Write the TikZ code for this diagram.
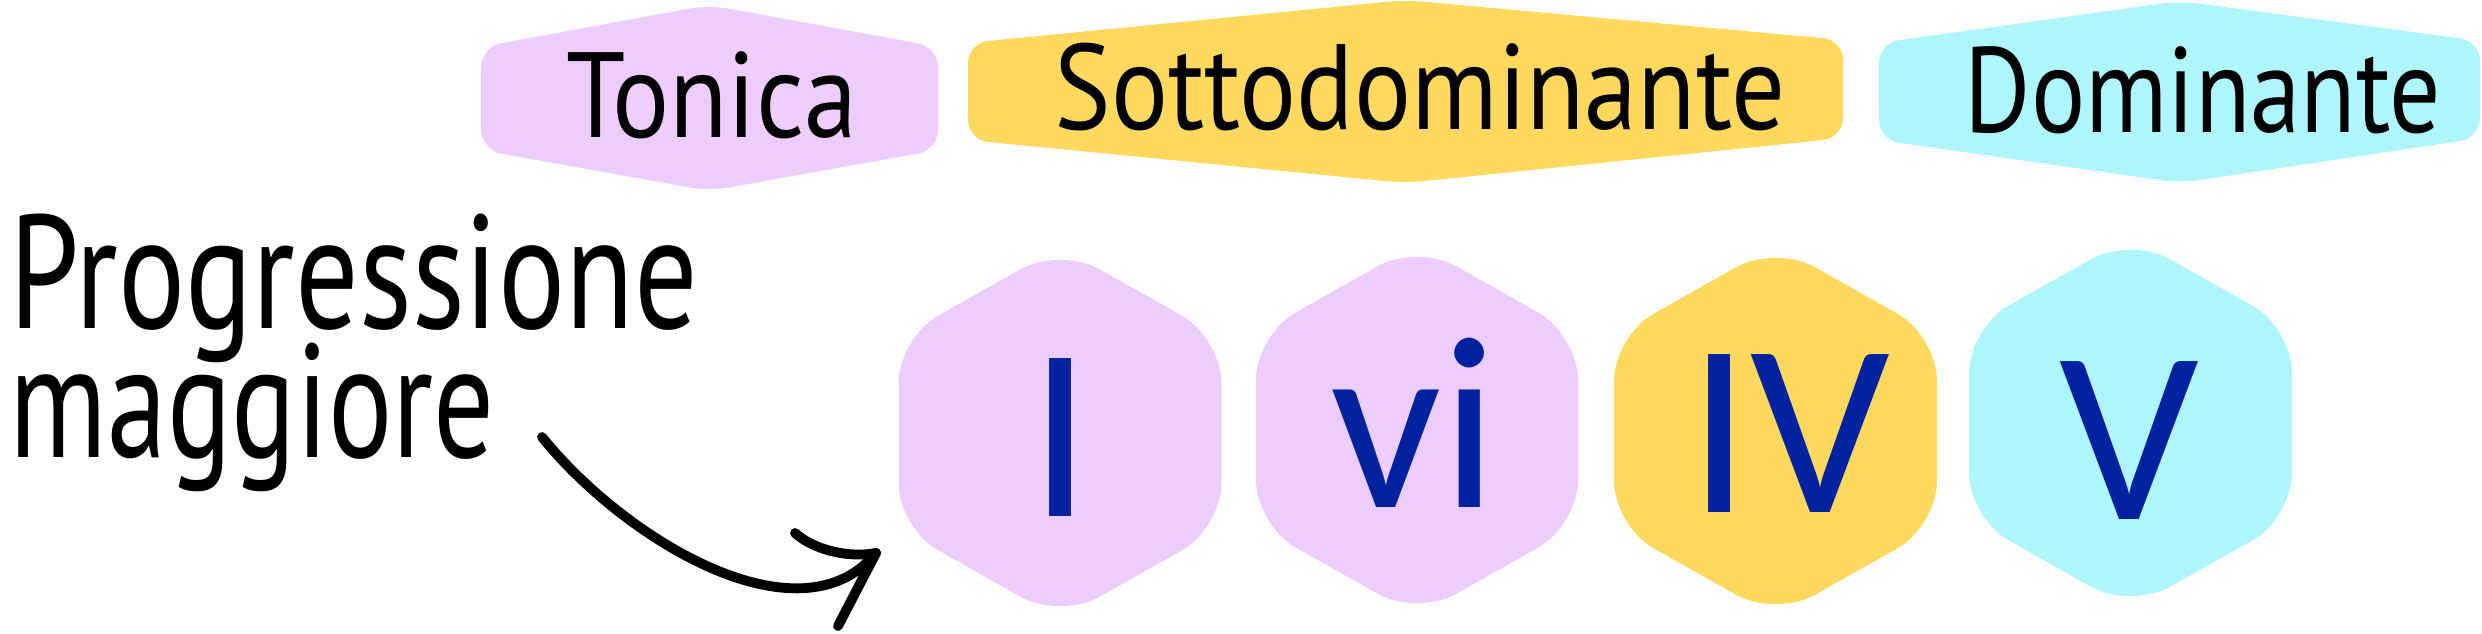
\documentclass[tikz,border=0pt]{standalone}
\usepackage{fontspec}
\usepackage{graphicx}
\newfontfamily\handfont{PT Sans}
\newfontfamily\numfont{Carlito}
\definecolor{tonicpurple}{RGB}{237, 205, 253}
\definecolor{subyellow}{RGB}{254, 217, 94}
\definecolor{domcyan}{RGB}{175, 246, 252}
\definecolor{numblue}{RGB}{0, 34, 160}
\usetikzlibrary{positioning}

\begin{document}
\begin{tikzpicture}[
    x=0.01cm, y=-0.01cm,
    hexlabel/.style={font={\handfont\fontsize{34.5}{40}\selectfont}, anchor=base, inner sep=0pt},
    titletext/.style={font={\handfont\fontsize{46}{50}\selectfont}, anchor=base west, inner sep=0pt},
    chord/.style={font={\numfont\fontsize{70}{80}\selectfont}, text=numblue, anchor=base, inner sep=0pt},
    headhex/.style={rounded corners=0.2cm},
    chordhex/.style={rounded corners=0.45cm},
    pen/.style={line width=2.8pt, line cap=round, line join=round}
  ]
  \useasboundingbox (0,0) rectangle (2482,634);

  % group headers
  \fill[headhex, fill=tonicpurple] (709,5) -- (938,47) -- (938,150) -- (709,191) -- (481,150) -- (481,47) -- cycle;
  \fill[headhex, fill=subyellow] (1405,0) -- (1843,40) -- (1843,138) -- (1405,183) -- (968,140) -- (968,43) -- cycle;
  \fill[headhex, fill=domcyan] (2180,1) -- (2480,41) -- (2480,138) -- (2180,183) -- (1879,140) -- (1879,43) -- cycle;
  \node[hexlabel] (tonica) at (712,138) {\resizebox{2.91cm}{\height}{Tonica}};
  \node[hexlabel] (sotto)  at (1420,130) {\resizebox{7.30cm}{\height}{Sottodominante}};
  \node[hexlabel] (domin)  at (2203,133) {\resizebox{4.76cm}{\height}{Dominante}};

  % chords
  \fill[chordhex, fill=tonicpurple] (1060,247) -- (1221.5,338) -- (1221.5,528) -- (1060,619) -- (898.5,528) -- (898.5,338) -- cycle;
  \fill[chordhex, fill=tonicpurple] (1417,244) -- (1578,335) -- (1578,525) -- (1417,616) -- (1256,525) -- (1256,335) -- cycle;
  \fill[chordhex, fill=subyellow] (1775.5,245) -- (1937,336) -- (1937,526) -- (1775.5,617) -- (1614,526) -- (1614,336) -- cycle;
  \fill[chordhex, fill=domcyan] (2130.5,237) -- (2292,328) -- (2292,518) -- (2130.5,609) -- (1969,518) -- (1969,328) -- cycle;
  \node[chord] (ci)  at (1060,516) {I};
  \node[chord] (cvi) at (1414,507) {vi};
  \node[chord] (civ) at (1789,512) {IV};
  \node[chord] (cv)  at (2129,519) {V};

  % title and arrow
  \node[titletext] (prog) at (9,328) {\resizebox{6.88cm}{\height}{Progressione}};
  \node[titletext] (magg) at (9,457) {\resizebox{4.85cm}{\height}{maggiore}};
  \coordinate (arrstart) at (542,437);
  \coordinate (arrtip) at (876,553);
  \draw[pen] (arrstart) .. controls (625,540) and (800,645) .. (arrtip);
  \draw[pen] (arrtip) .. controls +(-25,5) and +(20,18) .. ++(-81,-20);
  \draw[pen] (arrtip) -- ++(-38,73);
\end{tikzpicture}
\end{document}
